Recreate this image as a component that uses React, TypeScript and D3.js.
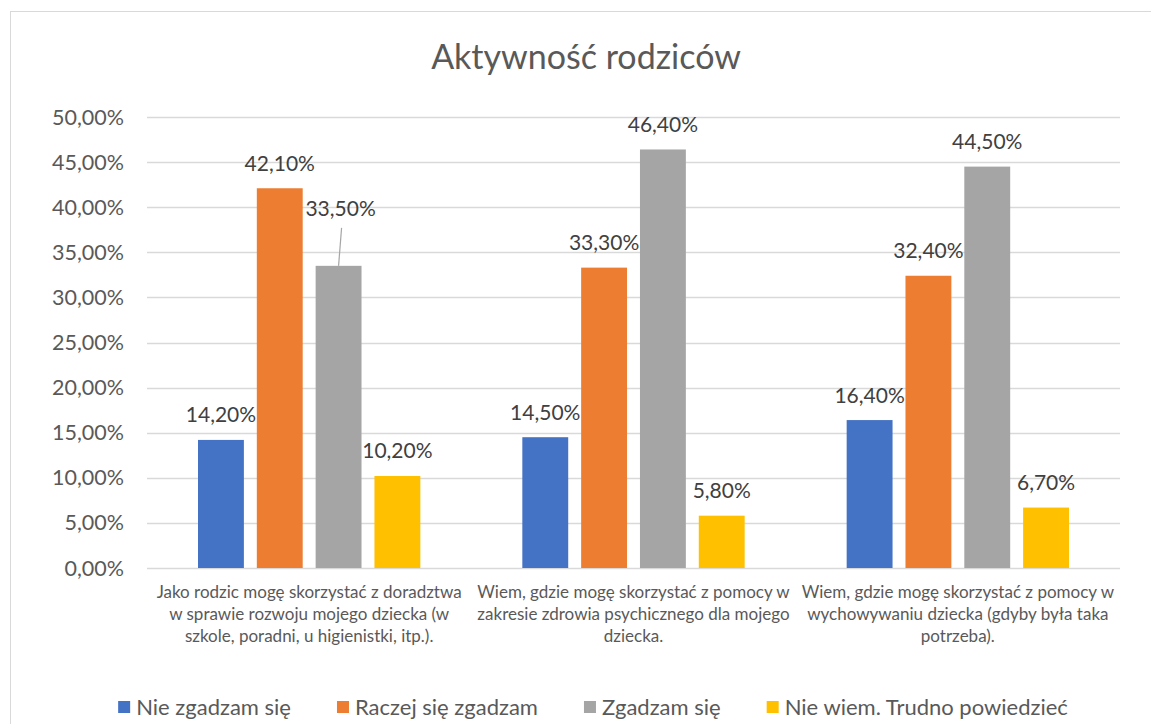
import React, { useEffect, useRef } from 'react';
import * as d3 from 'd3';

// data
const categoryLines: string[][] = [
  ['Jako rodzic mogę skorzystać z doradztwa', 'w sprawie rozwoju mojego dziecka (w', 'szkole, poradni, u higienistki, itp.).'],
  ['Wiem, gdzie mogę skorzystać z pomocy w', 'zakresie zdrowia psychicznego dla mojego', 'dziecka.'],
  ['Wiem, gdzie mogę skorzystać z pomocy w', 'wychowywaniu dziecka (gdyby była taka', 'potrzeba).'],
];
const seriesNames = ['Nie zgadzam się', 'Raczej się zgadzam', 'Zgadzam się', 'Nie wiem. Trudno powiedzieć'];
const seriesColors = ['#4472C4', '#ED7D31', '#A5A5A5', '#FFC000'];
const nieZgadzam = [14.2, 14.5, 16.4];
const raczejZgadzam = [42.1, 33.3, 32.4];
const zgadzam = [33.5, 46.4, 44.5];
const nieWiem = [10.2, 5.8, 6.7];
const yTicks = [0, 5, 10, 15, 20, 25, 30, 35, 40, 45, 50];
const title = 'Aktywność rodziców';

const FONT = 'Lato, "Open Sans", sans-serif';

export default function App() {
  const ref = useRef<SVGSVGElement>(null);

  useEffect(() => {
    const svg = d3.select(ref.current);
    svg.selectAll('*').remove();

    const W = 1151;
    const H = 724;
    const margin = { top: 117, right: 31, bottom: 156, left: 147 };
    const width = W - margin.left - margin.right;
    const height = H - margin.top - margin.bottom;

    // chart border
    svg.append('rect')
      .attr('x', 10.5).attr('y', 11.5)
      .attr('width', W).attr('height', H)
      .attr('fill', '#fff').attr('stroke', '#d9d9d9');

    svg.append('text')
      .attr('x', 586).attr('y', 69)
      .attr('text-anchor', 'middle')
      .attr('font-family', FONT).attr('font-size', 34)
      .attr('fill', '#595959')
      .text(title);

    const series = [nieZgadzam, raczejZgadzam, zgadzam, nieWiem];
    const cats = d3.range(categoryLines.length);

    const x0 = d3.scaleBand<number>().domain(cats).range([0, width]).paddingInner(0).paddingOuter(0);
    const x1 = d3.scaleBand<number>().domain(d3.range(series.length)).range([51, x0.bandwidth() - 51]).paddingInner(0.22);
    const y = d3.scaleLinear().domain([0, 50]).range([height, 0]);

    const g = svg.append('g').attr('transform', `translate(${margin.left},${margin.top})`);

    g.selectAll('line.grid')
      .data(yTicks)
      .enter()
      .append('line')
      .attr('x1', 0).attr('x2', width)
      .attr('y1', (d) => Math.round(y(d)) + 0.5).attr('y2', (d) => Math.round(y(d)) + 0.5)
      .attr('stroke', '#d9d9d9').attr('stroke-width', 1.3);

    g.selectAll('text.ytick')
      .data(yTicks)
      .enter()
      .append('text')
      .attr('x', -23).attr('y', (d) => y(d) + 7.5)
      .attr('text-anchor', 'end')
      .attr('font-family', FONT).attr('font-size', 21.5)
      .attr('fill', '#595959')
      .text((d) => d.toFixed(2).replace('.', ',') + '%');

    // the 33,50% label sits higher, tied to its bar with a leader line
    const movedLabel = (s: number, c: number) => s === 2 && c === 0;

    series.forEach((vals, s) => {
      const cg = g.append('g');
      cg.selectAll('rect')
        .data(vals)
        .enter()
        .append('rect')
        .attr('x', (_, c) => (x0(c) as number) + (x1(s) as number))
        .attr('y', (d) => y(d))
        .attr('width', x1.bandwidth())
        .attr('height', (d) => height - y(d))
        .attr('fill', seriesColors[s]);

      vals.forEach((v, c) => {
        const cx = (x0(c) as number) + (x1(s) as number) + x1.bandwidth() / 2;
        const moved = movedLabel(s, c);
        if (moved) {
          g.append('line')
            .attr('x1', cx).attr('y1', y(v))
            .attr('x2', cx + 3).attr('y2', y(v) - 38)
            .attr('stroke', '#a6a6a6').attr('stroke-width', 1.2);
        }
        g.append('text')
          .attr('x', cx + (moved ? 2 : 0))
          .attr('y', y(v) - (moved ? 49.5 : 17.5))
          .attr('text-anchor', 'middle')
          .attr('font-family', FONT).attr('font-size', 21)
          .attr('fill', '#404040')
          .text(v.toFixed(2).replace('.', ',') + '%');
      });
    });

    // category labels
    cats.forEach((c) => {
      const cx = (x0(c) as number) + x0.bandwidth() / 2;
      categoryLines[c].forEach((line, i) => {
        g.append('text')
          .attr('x', cx).attr('y', height + 30 + i * 22)
          .attr('text-anchor', 'middle')
          .attr('font-family', FONT).attr('font-size', 17)
          .attr('fill', '#595959')
          .text(line);
      });
    });

    // legend
    const lg = svg.append('g');
    let lx = 0;
    seriesNames.forEach((name, i) => {
      const item = lg.append('g').attr('transform', `translate(${lx},0)`);
      item.append('rect')
        .attr('x', 0).attr('y', 701).attr('width', 12).attr('height', 12)
        .attr('fill', seriesColors[i]);
      const t = item.append('text')
        .attr('x', 18).attr('y', 715)
        .attr('font-family', FONT).attr('font-size', 22)
        .attr('fill', '#595959')
        .text(name);
      const tw = (t.node() as SVGTextElement).getComputedTextLength();
      lx += 18 + tw + 46;
    });
    const total = lx - 46;
    lg.attr('transform', `translate(${593 - total / 2},0)`);
  }, []);

  return (
    <svg
      ref={ref}
      width={1151}
      height={724}
      style={{ position: 'absolute', left: 0, top: 0, display: 'block', background: '#fff' }}
    />
  );
}
